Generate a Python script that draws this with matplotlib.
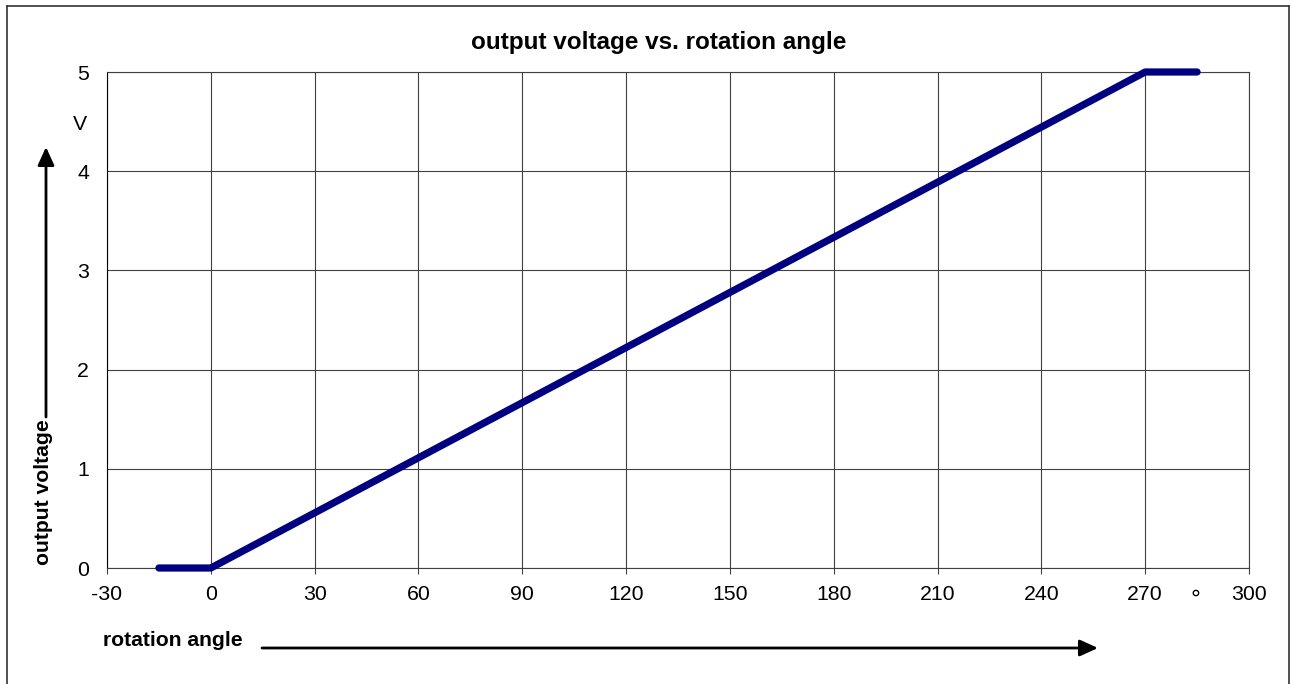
import matplotlib
matplotlib.use("Agg")
import matplotlib.pyplot as plt
from matplotlib.lines import Line2D

plt.rcParams['font.family'] = ['Liberation Sans', 'DejaVu Sans']
plt.rcParams['axes.unicode_minus'] = False

# data
angle = [-15, 0, 270, 285]
voltage = [0, 0, 5, 5]
x_ticks = [-30, 0, 30, 60, 90, 120, 150, 180, 210, 240, 270, 300]
y_ticks = [0, 1, 2, 3, 4, 5]
title = "output voltage vs. rotation angle"
x_label = "rotation angle"
y_label = "output voltage"

W, H = 1291, 684
fig = plt.figure(figsize=(W / 100, H / 100), dpi=100)

def fx(px):
    return px / W

def fy(py):
    return 1 - py / H

ax = fig.add_axes([fx(107), fy(568), (1249 - 107) / W, (568 - 72) / H])
ax.plot(angle, voltage, color='#000080', lw=5.2, solid_capstyle='round',
        solid_joinstyle='round', clip_on=False, zorder=5)
ax.set_xlim(-30, 300)
ax.set_ylim(0, 5)
ax.set_xticks(x_ticks)
ax.set_yticks(y_ticks)
ax.grid(True, color='#404040', lw=0.8)
for s in ax.spines.values():
    s.set_color('#404040')
    s.set_linewidth(0.8)
ax.spines['left'].set_color('black')
ax.tick_params(axis='x', direction='out', length=4.5, width=0.8, color='#404040',
               pad=8, labelsize=15.3)
ax.tick_params(axis='y', length=0, pad=13, labelsize=15.3)

fig.text(fx(659), fy(42), title, ha='center', va='center',
         fontsize=17.5, fontweight='bold')
fig.text(fx(103), fy(641), x_label, ha='left', va='center',
         fontsize=15.2, fontweight='bold')
fig.text(fx(44), fy(492), y_label, ha='center', va='center',
         fontsize=15.2, fontweight='bold', rotation=90)
fig.text(fx(80), fy(124), "V", ha='center', va='center', fontsize=15.3)
fig.text(fx(1195), fy(594), "∘", ha='center', va='center', fontsize=16,
         family=['DejaVu Sans'])

# arrows
fig.add_artist(matplotlib.patches.FancyArrowPatch(
    (fx(262), fy(648)), (fx(1098), fy(648)), transform=fig.transFigure,
    arrowstyle='-|>,head_length=1.1,head_width=0.5', mutation_scale=10,
    color='black', lw=2, shrinkA=0, shrinkB=0))
fig.add_artist(matplotlib.patches.FancyArrowPatch(
    (fx(46), fy(417)), (fx(46), fy(147)), transform=fig.transFigure,
    arrowstyle='-|>,head_length=1.1,head_width=0.5', mutation_scale=10,
    color='black', lw=2, shrinkA=0, shrinkB=0))

# outer frame (open at bottom)
frame_kw = dict(transform=fig.transFigure, color='#333333', lw=1.2)
fig.add_artist(Line2D([fx(7), fx(7)], [fy(6), 0], **frame_kw))
fig.add_artist(Line2D([fx(7), fx(1289)], [fy(6), fy(6)], **frame_kw))
fig.add_artist(Line2D([fx(1289), fx(1289)], [fy(6), 0], **frame_kw))

fig.savefig("out.png", dpi=100)
